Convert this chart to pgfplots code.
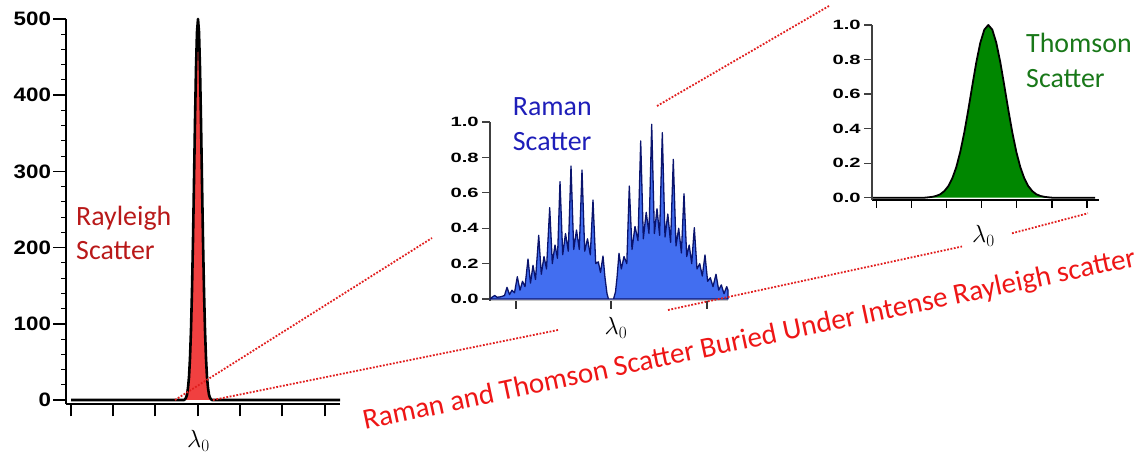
\documentclass[border=0pt]{standalone}
\usepackage{pgfplots}
\pgfplotsset{compat=1.18}
\usepackage{fontspec}
\setmainfont{Carlito}
\newfontfamily\arialfont{Liberation Sans}
\definecolor{rayred}{RGB}{240,64,64}
\definecolor{raytext}{RGB}{185,25,25}
\definecolor{ramanfill}{RGB}{66,110,240}
\definecolor{ramanline}{RGB}{10,20,110}
\definecolor{ramantext}{RGB}{30,30,185}
\definecolor{thomfill}{RGB}{0,135,0}
\definecolor{thomtext}{RGB}{25,120,25}
\definecolor{dotred}{RGB}{225,30,30}
\definecolor{maintext}{RGB}{238,22,22}

\pgfplotsset{
  insetaxis/.style={
    scale only axis, axis lines*=left, tick align=outside, clip=false,
    xticklabels={}, ytick={0,0.2,0.4,0.6,0.8,1},
    yticklabels={0.0,0.2,0.4,0.6,0.8,1.0},
    major tick length=8bp,
    yticklabel style={font=\arialfont\bfseries\fontsize{13.5}{14}\selectfont, xscale=1.5, inner sep=2bp},
    y axis line style={black!75, line width=1.5bp},
    ytick style={black!75, line width=1.3bp},
    xtick style={black!80, line width=1.3bp},
  }
}

\begin{document}
\begin{tikzpicture}
\useasboundingbox (0bp,0bp) rectangle (1148bp,455bp);

% ---------------- Rayleigh ----------------
\begin{axis}[
  at={(66bp,51bp)}, anchor=south west, scale only axis,
  width=274bp, height=385bp,
  xmin=-132, xmax=142, ymin=-5.25, ymax=500,
  axis lines*=left, axis line style={line width=2bp, black},
  tick align=outside, clip=false,
  xtick={-127,-85,-43,0,42,84,127}, xticklabels={},
  ytick={0,100,200,300,400,500}, yticklabels={0,100,200,300,400,500},
  minor y tick num=4,
  major tick length=12.5bp, minor tick length=5bp,
  major tick style={line width=1.5bp, black},
  minor tick style={line width=1bp, black},
  yticklabel style={font=\arialfont\bfseries\fontsize{19.5}{20}\selectfont, xscale=1.15, inner sep=2bp},
]
\addplot[fill=rayred, draw=none] coordinates {
(-14,0) (-13,1) (-12,3) (-11,7) (-10,16) (-9,30) (-8,55) (-7,92) (-6,144) (-5,210)
(-4,287) (-3,366) (-2,436) (-1,483) (0,500) (1,483) (2,436) (3,366) (4,287) (5,210)
(6,144) (7,92) (8,55) (9,30) (10,16) (11,7) (12,3) (13,1) (14,0)} -- cycle;
\addplot[black, line width=2.6bp, line join=round] coordinates {
(-127,0) (-14,0) (-13,1) (-12,3) (-11,7) (-10,16) (-9,30) (-8,55) (-7,92) (-6,144) (-5,210)
(-4,287) (-3,366) (-2,436) (-1,483) (0,500) (1,483) (2,436) (3,366) (4,287) (5,210)
(6,144) (7,92) (8,55) (9,30) (10,16) (11,7) (12,3) (13,1) (14,0) (142,0)};
\end{axis}

% ---------------- Raman ----------------
\begin{axis}[insetaxis,
  at={(490bp,154.2bp)}, anchor=south west,
  width=238bp, height=178.8bp,
  xmin=-121, xmax=117, ymin=-0.01, ymax=1,
  xtick={-95,0,96},
  x axis line style={gray!45, line width=1bp},
]
\addplot[fill=ramanfill, draw=ramanline, line width=1.3bp, line join=round] coordinates {
(-121,0.00) (-119,0.01) (-116.3,0.02) (-114,0.01) (-111,0.012) (-109,0.015) (-106.5,0.02)
(-104,0.066) (-101.5,0.025) (-99,0.05) (-96.5,0.035)
(-93.7,0.126) (-91,0.05) (-88.5,0.10) (-86,0.07)
(-83,0.226) (-80.5,0.09) (-78,0.19) (-75.5,0.11)
(-72.3,0.36) (-69.7,0.14) (-67,0.24) (-64.5,0.17)
(-61.3,0.516) (-58.7,0.20) (-56,0.305) (-53.5,0.23)
(-51,0.663) (-48.3,0.25) (-45.5,0.37) (-42.7,0.27)
(-40,0.751) (-37.3,0.28) (-34.5,0.39) (-31.7,0.28)
(-29,0.729) (-26.3,0.27) (-23.5,0.34) (-20.7,0.25)
(-18,0.559) (-15.3,0.20) (-12.7,0.21) (-10.5,0.15)
(-8,0.243) (-6,0.12) (-4,0.03) (-2.5,0.0) (2.5,0.0) (4.5,0.04) (6,0.12)
(8,0.258) (10.3,0.17) (13,0.24) (15.8,0.20)
(18.3,0.638) (21,0.28) (24,0.41) (27,0.33)
(29.7,0.893) (32.3,0.34) (35.2,0.49) (38,0.37)
(40.7,0.987) (43.4,0.37) (46,0.51) (48.6,0.36)
(51.3,0.94) (54,0.35) (56.8,0.48) (59.6,0.32)
(62.3,0.789) (65,0.30) (67.7,0.40) (70.4,0.26)
(73,0.595) (75.7,0.24) (78.2,0.305) (80.7,0.20)
(83.3,0.403) (86,0.17) (88.7,0.20) (91.3,0.13)
(94,0.249) (96.6,0.10) (99.3,0.12) (102,0.07)
(105,0.14) (107.7,0.05) (110.3,0.08) (113,0.03)
(115.7,0.07) (117,0.05)} \closedcycle;
\end{axis}

% ---------------- Thomson ----------------
\begin{axis}[insetaxis,
  at={(872bp,255bp)}, anchor=south west,
  width=227bp, height=175bp,
  xmin=-109.7, xmax=117.3, ymin=-0.0133, ymax=1,
  xtick={-105.3,-70.2,-35.1,0,35.1,70.2,105.3},
  x axis line style={black, line width=2bp},
  xtick style={black, line width=1.3bp},
]
\addplot[fill=thomfill, draw=none] coordinates {
(-57.4,0) (-53.4,0.0023) (-49.4,0.005) (-45.4,0.0104) (-41.4,0.020) (-37.4,0.038)
(-33.4,0.067) (-29.4,0.112) (-25.4,0.177) (-21.4,0.266) (-17.4,0.378) (-13.4,0.509)
(-9.4,0.649) (-5.4,0.784) (-1.4,0.897) (2.6,0.973) (6.6,1) (10.6,0.973) (14.6,0.897)
(18.6,0.784) (22.6,0.649) (26.6,0.509) (30.6,0.378) (34.6,0.266) (38.6,0.177)
(42.6,0.112) (46.6,0.067) (50.6,0.038) (54.6,0.020) (58.6,0.0104) (62.6,0.005)
(66.6,0.0023) (70.6,0)} -- cycle;
\addplot[black, line width=1.8bp, line join=round] coordinates {
(-108.7,0) (-57.4,0) (-53.4,0.0023) (-49.4,0.005) (-45.4,0.0104) (-41.4,0.020) (-37.4,0.038)
(-33.4,0.067) (-29.4,0.112) (-25.4,0.177) (-21.4,0.266) (-17.4,0.378) (-13.4,0.509)
(-9.4,0.649) (-5.4,0.784) (-1.4,0.897) (2.6,0.973) (6.6,1) (10.6,0.973) (14.6,0.897)
(18.6,0.784) (22.6,0.649) (26.6,0.509) (30.6,0.378) (34.6,0.266) (38.6,0.177)
(42.6,0.112) (46.6,0.067) (50.6,0.038) (54.6,0.020) (58.6,0.0104) (62.6,0.005)
(66.6,0.0023) (70.6,0) (113.3,0)};
\end{axis}

% ---------------- dotted connector lines ----------------
\begin{scope}[x=1bp, y=1bp, dotred, line width=1.8bp, dash pattern=on 1.8bp off 1.6bp]
\draw (175,55) -- (432,217);
\draw (213,55) -- (558,125);
\draw (668,145) -- (962,208.5);
\draw (1012,221.7) -- (1088,241.7);
\draw (657,349) -- (829,449);
\end{scope}

\begin{scope}[x=1bp, y=1bp]
% ---------------- lambda_0 labels ----------------
\node[font=\fontsize{24}{24}\selectfont] at (198.5,14) {$\lambda_0$};
\node[font=\fontsize{24}{24}\selectfont] at (616,127) {$\lambda_0$};
\node[font=\fontsize{24}{24}\selectfont] at (983.5,219) {$\lambda_0$};

% ---------------- texts ----------------
\begin{scope}[font=\fontsize{28}{34}\selectfont]
\node[raytext, anchor=base west, inner sep=0] at (76,230) {Rayleigh};
\node[raytext, anchor=base west, inner sep=0] at (76,195.7) {Scatter};
\node[ramantext, anchor=base west, inner sep=0] at (512.7,340) {Raman};
\node[ramantext, anchor=base west, inner sep=0] at (512.7,305) {Scatter};
\node[thomtext, anchor=base west, inner sep=0] at (1026,402.7) {Thomson};
\node[thomtext, anchor=base west, inner sep=0] at (1026,367.7) {Scatter};
\end{scope}
\node[maintext, anchor=base west, inner sep=0, rotate=12.0, font=\fontsize{29.2}{31}\selectfont] at (365,25) {Raman and Thomson Scatter Buried Under Intense Rayleigh scatter};
\end{scope}
\end{tikzpicture}
\end{document}
